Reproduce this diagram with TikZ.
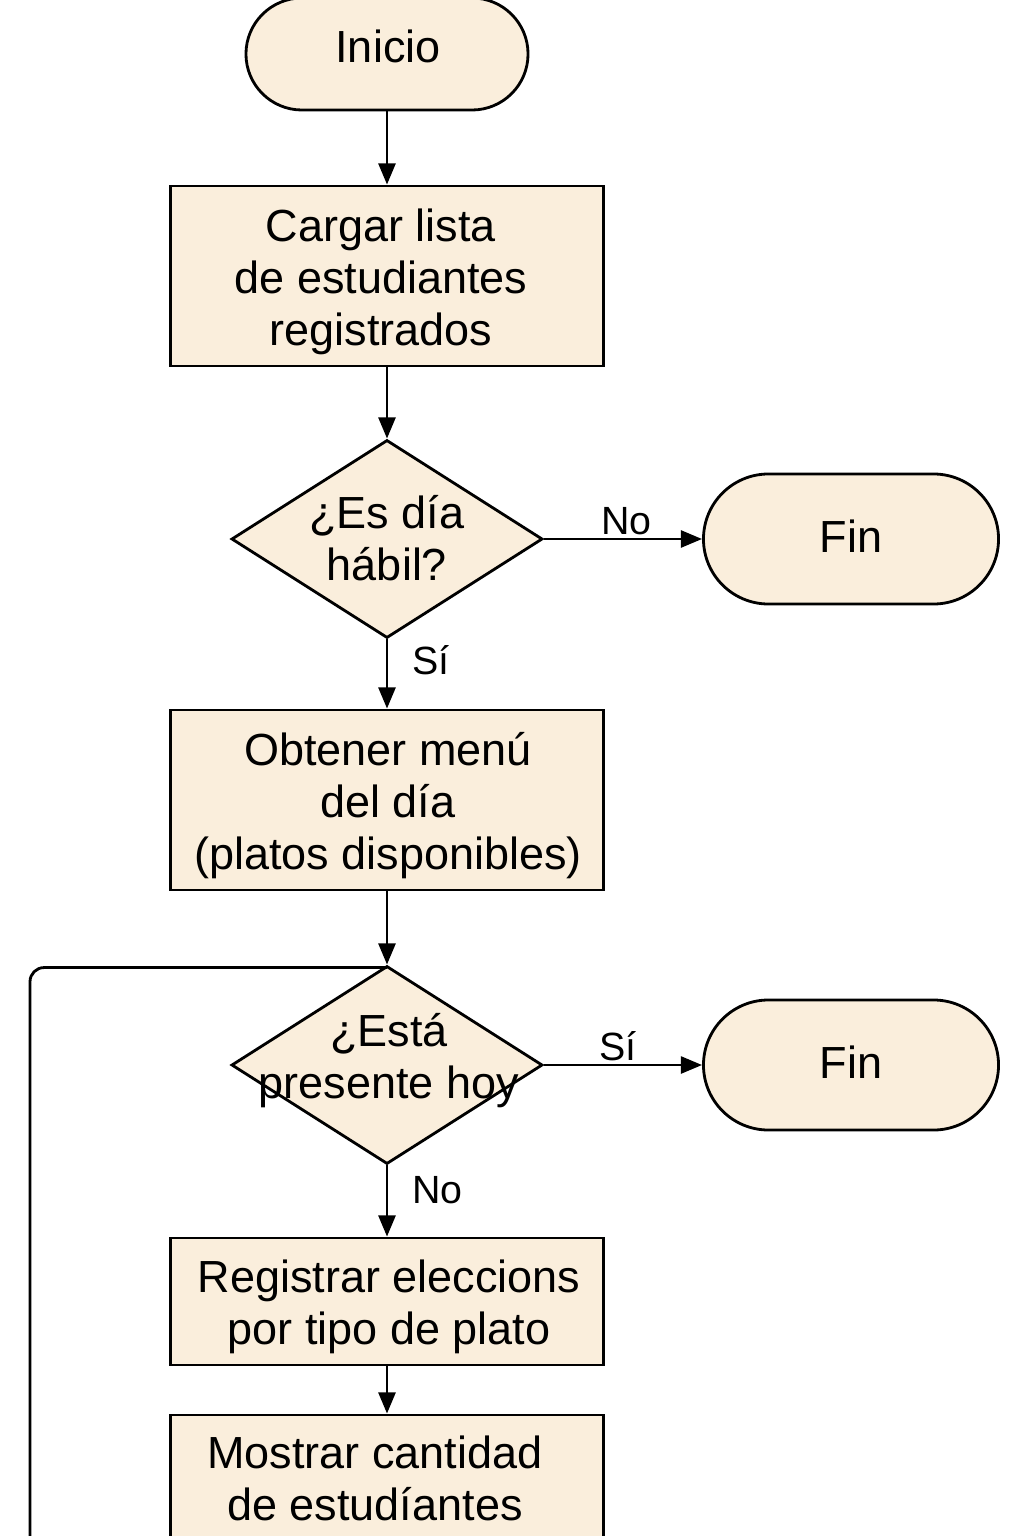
\documentclass[tikz,border=0pt]{standalone}
\usepackage{fontspec}
\setmainfont{Liberation Sans}
\usetikzlibrary{shapes.geometric,shapes.misc,arrows.meta}
\definecolor{cream}{RGB}{250,238,220}
\begin{document}
\begin{tikzpicture}[x=0.025cm,y=-0.025cm,
  every node/.style={font=\fontsize{32}{37}\selectfont, align=center},
  procbox/.style={draw, line width=2pt, fill=cream, minimum width=10.825cm, minimum height=4.5cm, inner sep=0pt},
  term/.style={draw, line width=2pt, fill=cream, rounded rectangle, inner sep=0pt},
  dec/.style={draw, line width=2pt, fill=cream, diamond, inner sep=0pt, minimum width=7.775cm, minimum height=4.95cm},
  txt/.style={inner sep=0pt},
  lbl/.style={font=\fontsize{28}{32}\selectfont, inner sep=0pt},
  flow/.style={line width=2pt, -{Triangle[length=15pt,width=12pt]}},
  plain/.style={line width=2pt}]
\useasboundingbox (0,0) rectangle (1024,1536);
\clip (0,0) rectangle (1024,1536);
\fill[white] (0,0) rectangle (1024,1536);

\coordinate (loopstart) at (30,1545);

\node[term, minimum width=7.05cm, minimum height=2.8cm] (start) at (387,54) {};
\node[txt] (startt) at (388,46) {Inicio};
\node[procbox] (b1) at (387,276) {};
\node[txt] (b1t) at (381,282) {Cargar lista\\de estudiantes\\registrados};
\node[dec] (d1) at (387,539) {};
\node[txt] (d1t) at (387,538) {¿Es día\\hábil?};
\node[term, minimum width=7.375cm, minimum height=3.25cm] (fin1) at (851,539) {};
\node[txt] (fin1t) at (851,536) {Fin};
\node[procbox] (b2) at (387,800) {};
\node[txt] (b2t) at (388,806) {Obtener menú\\del día\\(platos disponibles)};
\node[dec] (d2) at (387,1065) {};
\node[term, minimum width=7.375cm, minimum height=3.25cm] (fin2) at (851,1065) {};
\node[txt] (fin2t) at (851,1062) {Fin};
\node[procbox, minimum height=3.175cm] (b3) at (387,1301.5) {};
\node[txt] (b3t) at (389,1307) {Registrar eleccions\\por tipo de plato};
\node[procbox, minimum height=4.5cm] (b4) at (387,1505) {};
\node[txt, anchor=north] (b4t) at (375,1436) {Mostrar cantidad\\de estudíantes};

\draw[plain, rounded corners=10pt] (loopstart) |- ([yshift=-3*0.025cm]d2.north);
\node[txt] (d2t) at (389,1061) {¿Está\\presente hoy};

\draw[flow] (start) -- (b1);
\draw[flow] (b1) -- (d1);
\draw[flow] (d1.east) -- node[lbl, above, pos=0.52, yshift=2pt] (no1) {No} (fin1.west);
\draw[flow] (d1.south) -- node[lbl, right, pos=0.3, xshift=17pt] (si1) {Sí} (b2.north);
\draw[flow] (b2) -- (d2);
\draw[flow] (d2.east) -- node[lbl, above, pos=0.47, yshift=2pt] (si2) {Sí} (fin2.west);
\draw[flow] (d2.south) -- node[lbl, right, pos=0.35, xshift=17pt] (no2) {No} (b3.north);
\draw[flow] (b3) -- (b4);
\end{tikzpicture}
\end{document}
